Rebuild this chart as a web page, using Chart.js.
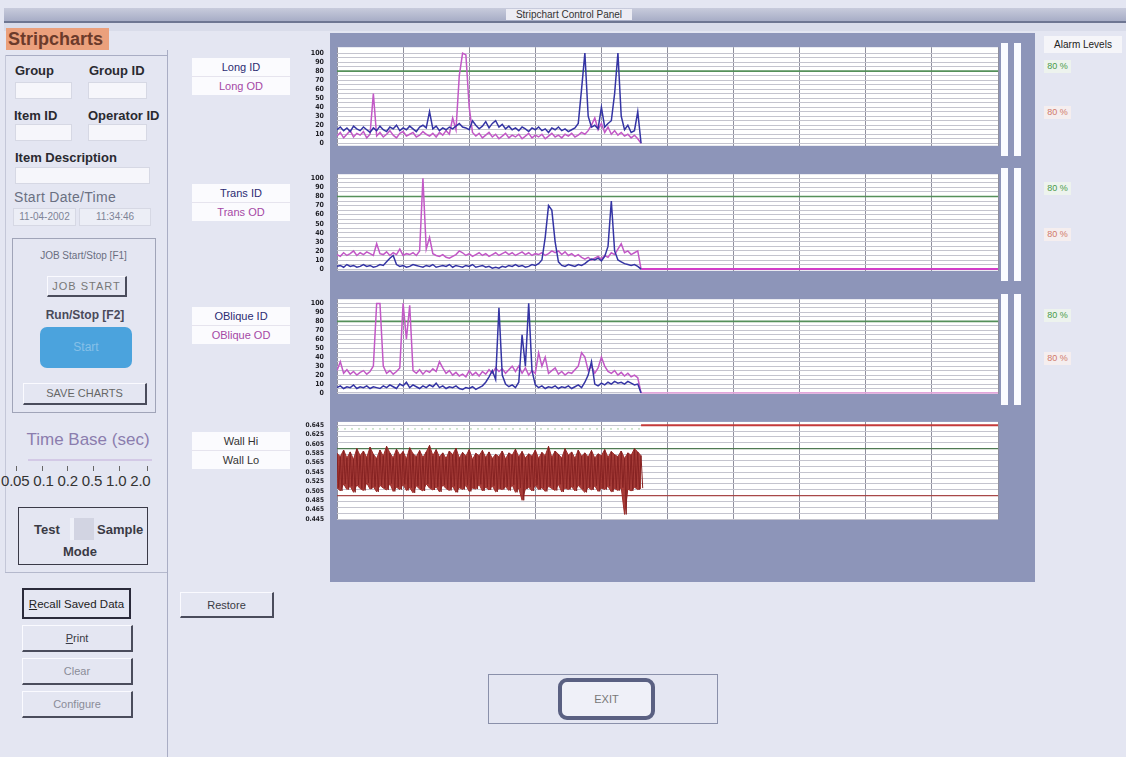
<!DOCTYPE html>
<html lang="en">
<head>
<meta charset="UTF-8">
<title>Stripchart Control Panel</title>
<script src="https://cdn.jsdelivr.net/npm/chart.js"></script>
<style>
  body { margin: 0; width: 1126px; height: 757px; overflow: hidden; background: #e4e6f2; font-family: "Liberation Sans", Arial, sans-serif; position: relative; color: #222; }
  .a { position: absolute; }
  .lbl { position: absolute; font-weight: bold; font-size: 13px; color: #2a2a30; white-space: nowrap; }
  .inp { position: absolute; background: #f6f6fb; border: 1px solid #d6d8e4; box-sizing: border-box; }
  .btn { position: absolute; box-sizing: border-box; border-top: 1px solid #fafaff; border-left: 1px solid #fafaff; border-right: 2px solid #4a4c5c; border-bottom: 2px solid #4a4c5c; text-align: center; font-size: 11px; color: #3a3a44; }
  .legend { position: absolute; width: 98px; height: 37px; background: #fbfbfe; font-size: 11px; text-align: center; line-height: 18px; }
  .legend div:first-child { border-bottom: 1px solid #e6e4ee; }
  .pct { position: absolute; left: 1044px; width: 27px; height: 13px; font-size: 9px; line-height: 13px; text-align: center; }
  .bar { position: absolute; width: 7px; background: #fafbff; }
  canvas { position: absolute; }
</style>
</head>
<body>
  <!-- window title -->
  <div class="a" style="left:4px;top:8px;width:1122px;height:13px;background:linear-gradient(#c8cbdc,#a7adc6);border-bottom:2px solid #6e7692"></div>
  <div class="a" style="left:506px;top:9px;width:126px;height:11px;background:#ececf4;font-size:10px;line-height:11px;text-align:center;color:#333">Stripchart Control Panel</div>
  <div class="a" style="left:4px;top:23px;width:1122px;height:8px;background:#d9dcea"></div>

  <!-- left panel -->
  <div class="a" style="left:6px;top:28px;width:101px;height:22px;background:#eba07c;font-weight:bold;font-size:18px;line-height:22px;color:#6b3b2b;padding-left:2px">Stripcharts</div>
  <div class="a" style="left:167px;top:50px;width:1px;height:707px;background:#a9adc4"></div>
  <div class="a" style="left:5px;top:55px;width:162px;height:1px;background:#a9adc4"></div>
  <div class="a" style="left:5px;top:55px;width:1px;height:517px;background:#c4c7d8"></div>

  <div class="lbl" style="left:15px;top:63px">Group</div>
  <div class="lbl" style="left:89px;top:63px">Group ID</div>
  <div class="inp" style="left:15px;top:82px;width:57px;height:17px"></div>
  <div class="inp" style="left:88px;top:82px;width:59px;height:17px"></div>
  <div class="lbl" style="left:14px;top:108px">Item ID</div>
  <div class="lbl" style="left:88px;top:108px">Operator ID</div>
  <div class="inp" style="left:15px;top:124px;width:57px;height:17px"></div>
  <div class="inp" style="left:88px;top:124px;width:59px;height:17px"></div>
  <div class="lbl" style="left:15px;top:150px">Item Description</div>
  <div class="inp" style="left:15px;top:167px;width:135px;height:17px"></div>
  <div class="a" style="left:14px;top:189px;font-size:14px;color:#6a7082;white-space:nowrap;letter-spacing:0.3px">Start Date/Time</div>
  <div class="inp" style="left:13px;top:208px;width:63px;height:18px;font-size:10px;line-height:16px;text-align:center;color:#7e8496;background:#eceef6">11-04-2002</div>
  <div class="inp" style="left:79px;top:208px;width:72px;height:18px;font-size:10px;line-height:16px;text-align:center;color:#7e8496;background:#eceef6">11:34:46</div>

  <div class="a" style="left:12px;top:238px;width:142px;height:173px;border:1px solid #a0a4b8"></div>
  <div class="a" style="left:12px;top:250px;width:143px;text-align:center;font-size:10px;color:#6a6e80">JOB Start/Stop [F1]</div>
  <div class="btn" style="left:47px;top:276px;width:80px;height:21px;line-height:18px;color:#777;letter-spacing:1px">JOB START</div>
  <div class="lbl" style="left:12px;top:308px;width:146px;text-align:center;color:#4a4a5a;font-size:12px">Run/Stop [F2]</div>
  <div class="a" style="left:40px;top:327px;width:92px;height:41px;background:#4ba3dd;border-radius:7px;font-size:12px;line-height:41px;text-align:center;color:#86c0e8">Start</div>
  <div class="btn" style="left:23px;top:383px;width:124px;height:22px;line-height:19px;color:#666">SAVE CHARTS</div>

  <div class="a" style="left:20px;top:430px;width:136px;text-align:center;font-size:17px;color:#8b7dae">Time Base (sec)</div>
  <div class="a" style="left:28px;top:459px;width:124px;height:2px;background:#d3c9e6"></div>
  <div class="a" style="left:16px;top:466px;width:1px;height:5px;background:#666"></div>
  <div class="a" style="left:42px;top:466px;width:1px;height:5px;background:#666"></div>
  <div class="a" style="left:67px;top:466px;width:1px;height:5px;background:#666"></div>
  <div class="a" style="left:93px;top:466px;width:1px;height:5px;background:#666"></div>
  <div class="a" style="left:119px;top:466px;width:1px;height:5px;background:#666"></div>
  <div class="a" style="left:147px;top:466px;width:1px;height:5px;background:#666"></div>
  <div class="a" style="left:1px;top:472px;font-size:15px;color:#333;white-space:nowrap;letter-spacing:-0.2px">0.05 0.1 0.2 0.5 1.0 2.0</div>

  <div class="a" style="left:18px;top:507px;width:128px;height:56px;border:1.5px solid #3a3a48"></div>
  <div class="lbl" style="left:34px;top:522px;color:#3a3a44">Test</div>
  <div class="a" style="left:70px;top:518px;width:20px;height:22px;background:#d2d4e2;border-left:4px solid #eef0f8"></div>
  <div class="lbl" style="left:97px;top:522px;color:#3a3a44">Sample</div>
  <div class="lbl" style="left:63px;top:544px;color:#3a3a44">Mode</div>
  <div class="a" style="left:5px;top:572px;width:162px;height:1px;background:#b4b8cc"></div>

  <div class="btn" style="left:22px;top:588px;width:109px;height:31px;line-height:28px;border:2px solid #2a2a3a;font-size:11.5px;color:#222"><u>R</u>ecall Saved Data</div>
  <div class="btn" style="left:22px;top:625px;width:111px;height:27px;line-height:25px"><u>P</u>rint</div>
  <div class="btn" style="left:22px;top:658px;width:111px;height:27px;line-height:25px;color:#8a8c98">Clear</div>
  <div class="btn" style="left:22px;top:691px;width:111px;height:27px;line-height:25px;color:#8a8c98">Configure</div>
  <div class="btn" style="left:180px;top:592px;width:94px;height:26px;line-height:24px">Restore</div>

  <!-- trace legends -->
  <div class="legend" style="left:192px;top:58px"><div style="color:#2c2c72">Long ID</div><div style="color:#a548a5">Long OD</div></div>
  <div class="legend" style="left:192px;top:184px"><div style="color:#2c2c72">Trans ID</div><div style="color:#a548a5">Trans OD</div></div>
  <div class="legend" style="left:192px;top:307px"><div style="color:#2c2c72">OBlique ID</div><div style="color:#a548a5">OBlique OD</div></div>
  <div class="legend" style="left:192px;top:432px"><div style="color:#333">Wall Hi</div><div style="color:#333">Wall Lo</div></div>

  <!-- chart frame -->
  <div class="a" style="left:330px;top:33px;width:705px;height:549px;background:#8d95b9"></div>
  <div class="bar" style="left:1001px;top:43px;height:113px"></div>
  <div class="bar" style="left:1014px;top:43px;height:113px"></div>
  <div class="bar" style="left:1001px;top:168px;height:113px"></div>
  <div class="bar" style="left:1014px;top:168px;height:113px"></div>
  <div class="bar" style="left:1001px;top:294px;height:111px"></div>
  <div class="bar" style="left:1014px;top:294px;height:111px"></div>

  <canvas id="longChart" width="700" height="133" style="left:300px;top:30px"></canvas>
  <canvas id="transChart" width="700" height="131" style="left:300px;top:157px"></canvas>
  <canvas id="obliqueChart" width="700" height="129" style="left:300px;top:282px"></canvas>
  <canvas id="wallChart" width="700" height="131" style="left:300px;top:405px"></canvas>

  <!-- alarm levels -->
  <div class="a" style="left:1044px;top:36px;width:78px;height:17px;background:#f5f5f9;font-size:10px;line-height:17px;text-align:center">Alarm Levels</div>
  <div class="pct" style="top:60px;color:#4a9a4a;background:#edf3ee">80 %</div>
  <div class="pct" style="top:106px;color:#d07a6a;background:#f5eeef">80 %</div>
  <div class="pct" style="top:182px;color:#4a9a4a;background:#edf3ee">80 %</div>
  <div class="pct" style="top:228px;color:#d07a6a;background:#f5eeef">80 %</div>
  <div class="pct" style="top:309px;color:#4a9a4a;background:#edf3ee">80 %</div>
  <div class="pct" style="top:352px;color:#d07a6a;background:#f5eeef">80 %</div>

  <!-- exit -->
  <div class="a" style="left:488px;top:674px;width:230px;height:50px;border:1.5px solid #8a90aa;box-sizing:border-box"></div>
  <div class="a" style="left:558px;top:678px;width:97px;height:42px;border:4px solid #5a6082;border-radius:9px;box-sizing:border-box;background:#eff0f8;font-size:11px;line-height:34px;text-align:center;color:#777">EXIT</div>

<script>
  // time axis: 10 divisions, run recorded up to runEnd
  const sampleStep = 0.5;
  const runEnd = 46;
  const chartEnd = 100;
  const alarmLevel = 80;

  const pctTickLabels = [0, 10, 20, 30, 40, 50, 60, 70, 80, 90, 100];
  const wallTickLabels = [0.445, 0.465, 0.485, 0.505, 0.525, 0.545, 0.565, 0.585, 0.605, 0.625, 0.645];
  const wallUpperLimit = 0.595;
  const wallLowerLimit = 0.495;
  const wallNominal = 0.637;
  const wallIdle = 0.645;

  const longID = [15,18,14,17,13,19,16,14,18,15, 12,17,14,19,15,13,18,16,20,14,
    17,15,19,16,13,18,20,17,35,16, 19,14,17,15,18,16,19,22,18,17,
    15,25,20,16,19,24,17,22,25,18, 21,16,19,15,17,14,18,16,13,17,
    15,18,14,16,12,17,15,18,14,16, 13,15,17,22,60,100,30,18,20,16,
    40,18,22,25,55,100,30,15,20,12, 14,35,0];
  const longOD = [8,12,6,10,14,7,11,9,13,6, 10,55,8,12,7,10,14,9,6,11,
    13,8,10,12,7,9,13,10,8,11, 7,12,9,14,10,28,15,75,100,98,
    40,12,8,11,6,9,12,7,10,5, 8,11,6,9,7,10,5,8,11,6,
    9,7,10,5,8,11,7,9,6,10, 8,11,7,9,12,10,14,20,28,15,
    22,12,18,10,14,9,12,8,10,6, 9,5,0];

  const transID = [3,4,2,5,3,4,2,3,5,3, 4,2,3,5,4,8,12,15,5,3,
    4,2,3,5,4,3,2,4,3,5, 2,3,4,3,5,2,4,3,2,4,
    3,5,2,3,4,2,3,1,2,1, 3,2,4,3,5,3,4,2,3,5,
    4,6,10,35,70,65,30,8,4,3, 5,4,3,5,4,6,9,11,10,12,
    9,14,25,75,20,10,8,6,5,4, 5,3,0];
  const transOD = [16,14,18,15,17,20,15,18,16,19, 17,15,28,17,16,19,15,18,16,22,
    15,17,16,18,15,20,100,22,35,17, 15,14,16,13,12,14,16,20,18,15,
    17,14,16,18,15,17,14,16,18,15, 17,19,16,18,15,17,19,16,18,15,
    17,16,18,15,17,20,18,20,16,19, 15,17,14,16,13,11,13,10,12,14,
    11,15,13,18,16,22,28,18,20,16, 18,20,0];

  const obliqueID = [6,8,5,7,6,9,5,7,6,8, 5,7,6,5,8,6,9,7,5,10,
    8,12,6,9,7,5,8,6,9,7, 11,6,8,5,7,6,8,5,4,6,
    5,7,4,6,8,12,18,25,15,95, 20,10,7,9,6,12,65,30,100,25,
    9,6,8,5,7,6,8,5,7,6, 8,5,7,9,6,12,20,35,10,8,
    11,9,12,10,13,11,12,10,13,11, 9,10,0];
  const obliqueOD = [25,35,22,26,21,24,20,23,25,21, 24,30,100,100,30,22,25,21,24,28,
    100,60,98,25,22,26,21,25,23,27, 24,35,28,22,25,20,23,19,21,18,
    25,20,23,19,24,21,26,22,28,24, 27,22,26,30,24,30,22,28,20,25,
    22,45,30,40,22,25,28,21,24,20, 23,22,26,30,45,40,25,30,22,28,
    40,30,24,22,25,20,23,19,22,18, 20,17,0];

  const wallHi = [0.585,0.578,0.592,0.575,0.588,0.572,0.595,0.580,0.590,0.576,
    0.598,0.583,0.574,0.592,0.579,0.600,0.586,0.575,0.594,0.581,
    0.589,0.573,0.597,0.584,0.578,0.591,0.576,0.588,0.602,0.580,
    0.593,0.577,0.586,0.574,0.590,0.582,0.596,0.575,0.587,0.579,
    0.593,0.572,0.585,0.580,0.591,0.576,0.588,0.574,0.583,0.578,
    0.590,0.573,0.586,0.581,0.594,0.577,0.589,0.575,0.584,0.579,
    0.592,0.574,0.587,0.580,0.600,0.576,0.590,0.583,0.575,0.595,
    0.581,0.588,0.574,0.592,0.579,0.586,0.577,0.591,0.575,0.584,
    0.580,0.593,0.576,0.589,0.582,0.578,0.590,0.574,0.586,0.581,
    0.595,0.588,0.580];
  const wallLo = [0.512,0.505,0.520,0.508,0.515,0.502,0.518,0.510,0.506,0.522,
    0.509,0.514,0.503,0.517,0.511,0.507,0.521,0.504,0.513,0.508,
    0.519,0.506,0.512,0.501,0.516,0.509,0.505,0.520,0.511,0.507,
    0.514,0.503,0.518,0.510,0.506,0.515,0.502,0.512,0.508,0.517,
    0.504,0.511,0.509,0.519,0.505,0.513,0.507,0.516,0.503,0.510,
    0.508,0.514,0.506,0.518,0.502,0.511,0.485,0.509,0.513,0.505,
    0.517,0.508,0.512,0.504,0.515,0.510,0.506,0.519,0.503,0.511,
    0.508,0.514,0.505,0.517,0.509,0.502,0.513,0.507,0.516,0.504,
    0.511,0.508,0.515,0.503,0.510,0.506,0.512,0.455,0.509,0.505,
    0.513,0.508,0.511];

  const ID_COLOR = '#3434a4';
  const OD_COLOR = '#c258c6';
  const WALL_COLOR = '#9c2c2a';

  const series = vals => vals.map((v, i) => ({ x: i * sampleStep, y: v }));
  const level = (v, from, to) => [{ x: from, y: v }, { x: to, y: v }];
  const key = v => Math.round(v * 10000);

  // wall hi/lo samples alternate, which gives the dense band
  const wallTrace = [];
  wallHi.forEach((v, i) => {
    wallTrace.push({ x: i * sampleStep, y: v });
    wallTrace.push({ x: i * sampleStep + sampleStep / 2, y: wallLo[i] });
  });

  const plotBackground = {
    id: 'plotBackground',
    beforeDraw(chart) {
      const { ctx, chartArea: a } = chart;
      ctx.save();
      ctx.fillStyle = '#ffffff';
      ctx.fillRect(a.left, a.top, a.width, a.height);
      ctx.restore();
    }
  };

  function strip(id, datasets, y) {
    const gridSet = new Set(y.grid.map(key));
    const labelSet = new Set(y.labels.map(key));
    const all = [...new Set([...y.grid, ...y.labels].map(key))].sort((a, b) => a - b).map(k => k / 10000);
    return new Chart(document.getElementById(id), {
      type: 'line',
      data: { datasets },
      options: {
        responsive: false,
        animation: false,
        events: [],
        layout: { padding: { top: 8, bottom: 8, left: 0, right: 2 } },
        plugins: { legend: { display: false }, tooltip: { enabled: false } },
        elements: { point: { radius: 0 }, line: { borderWidth: 1.5, tension: 0 } },
        scales: {
          x: {
            type: 'linear', min: 0, max: chartEnd,
            ticks: { display: false, stepSize: 10 },
            border: { display: false },
            grid: { color: '#90909e', drawTicks: false }
          },
          y: {
            type: 'linear', min: y.min, max: y.max,
            border: { display: false },
            afterBuildTicks: s => { s.ticks = all.map(v => ({ value: v })); },
            afterFit: s => { s.width = 37; },
            grid: {
              drawTicks: false,
              color: c => gridSet.has(key(c.tick.value)) ? '#c4c4ce' : 'rgba(0,0,0,0)'
            },
            ticks: {
              autoSkip: false,
              padding: 13,
              color: '#1e1e24',
              font: { family: '"Liberation Sans Narrow", "DejaVu Sans Condensed", sans-serif', size: y.fontSize, weight: 'bold' },
              callback: v => labelSet.has(key(v)) ? y.fmt(v) : ''
            }
          }
        }
      },
      plugins: [plotBackground]
    });
  }

  const pctGrid = [];
  for (let v = 0; v <= 100; v += 5) pctGrid.push(v);
  const wallGrid = [];
  for (let k = 0; k <= 16; k++) wallGrid.push(+(0.445 + k * 0.0125).toFixed(4));

  const pctAxis = (min, max) => ({ min, max, grid: pctGrid, labels: pctTickLabels, fmt: v => String(v), fontSize: 7 });
  const alarm = { data: level(alarmLevel, 0, chartEnd), borderColor: '#55905a', borderWidth: 1.6, order: 3 };

  strip('longChart', [
    { data: series(longID), borderColor: ID_COLOR, order: 0 },
    { data: series(longOD), borderColor: OD_COLOR, order: 1 },
    alarm
  ], pctAxis(-2.8, 106.5));

  strip('transChart', [
    { data: series(transID), borderColor: ID_COLOR, order: 0 },
    { data: series(transOD), borderColor: OD_COLOR, order: 1 },
    { data: level(0, runEnd, chartEnd), borderColor: '#d23ec8', borderWidth: 2, order: 2 },
    { ...alarm }
  ], pctAxis(-1.9, 104.6));

  strip('obliqueChart', [
    { data: series(obliqueID), borderColor: ID_COLOR, order: 0 },
    { data: series(obliqueOD), borderColor: OD_COLOR, order: 1 },
    { data: level(0, runEnd, chartEnd), borderColor: '#e2a6da', borderWidth: 2, order: 2 },
    { ...alarm }
  ], pctAxis(-0.9, 104.7));

  strip('wallChart', [
    { data: series(wallHi), borderColor: WALL_COLOR, backgroundColor: 'rgba(160,44,40,0.92)', borderWidth: 1, fill: '+1', order: 1 },
    { data: series(wallLo), borderColor: WALL_COLOR, borderWidth: 1, order: 1 },
    { data: wallTrace, borderColor: '#862222', borderWidth: 1, order: 0 },
    { data: level(wallUpperLimit, 0, chartEnd), borderColor: '#4f7a52', borderWidth: 1.4, order: 3 },
    { data: level(wallLowerLimit, 0, chartEnd), borderColor: '#a84848', borderWidth: 1.4, order: 3 },
    { data: level(wallNominal, 0, runEnd), borderColor: '#a6cfa6', borderWidth: 1, borderDash: [2, 5], order: 4 },
    { data: level(wallIdle, runEnd, chartEnd), borderColor: '#c43a3a', borderWidth: 2, order: 2 }
  ], { min: 0.445, max: 0.652, grid: wallGrid, labels: wallTickLabels, fmt: v => v.toFixed(3), fontSize: 6.5 });
</script>
</body>
</html>
